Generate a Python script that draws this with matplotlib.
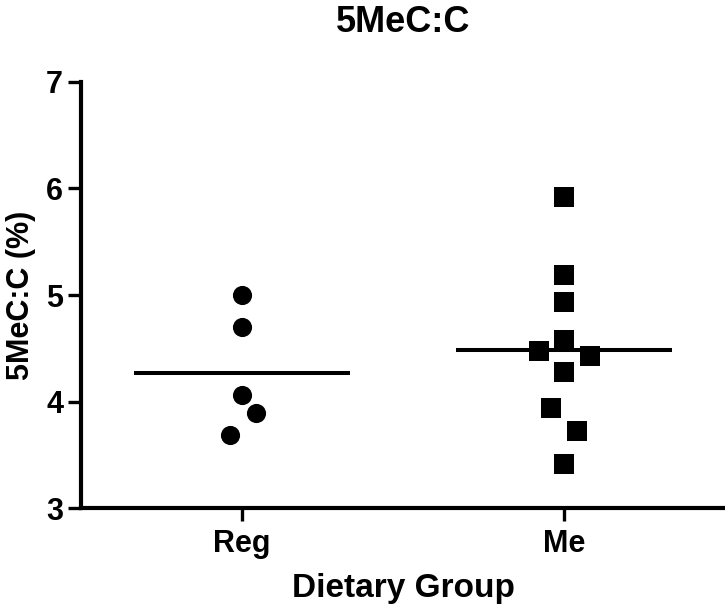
import matplotlib
matplotlib.use("Agg")
import matplotlib.pyplot as plt
import numpy as np

# data
groups = ["Reg", "Me"]
reg_values = [5.00, 4.70, 4.06, 3.89, 3.69]
me_values = [5.92, 5.19, 4.93, 4.58, 4.47, 4.43, 4.28, 3.94, 3.72, 3.41]
title = "5MeC:C"
ylabel = "5MeC:C (%)"
xlabel = "Dietary Group"

plt.rcParams['font.family'] = ['Liberation Sans', 'DejaVu Sans']
plt.rcParams['font.weight'] = 'bold'

fig = plt.figure(figsize=(7.25, 6.07), dpi=100)
ax = fig.add_axes([0.1117, 0.163, 0.8883, 0.702])

# horizontal spread of overlapping points (like the prism scatter)
reg_jit = [0, 0, 0, 0.043, -0.037]
me_jit = [0, 0, 0, 0, -0.078, 0.081, 0, -0.04, 0.04, 0]

ax.plot(1 + np.array(reg_jit), reg_values, 'o', color='black', ms=13.8, mew=0)
ax.plot(2 + np.array(me_jit), me_values, 's', color='black', ms=13.7, mew=0)

hw = 0.336
for i, vals in enumerate([reg_values, me_values]):
    m = np.mean(vals)
    ax.plot([i + 1 - hw, i + 1 + hw], [m, m], color='black', lw=2.9,
            solid_capstyle='butt')

ax.set_xlim(0.5, 2.5)
ax.set_ylim(3, 7)
ax.set_xticks([1, 2])
ax.set_xticklabels(groups)
ax.set_yticks([3, 4, 5, 6, 7])

for s in ['top', 'right']:
    ax.spines[s].set_visible(False)
for s in ['left', 'bottom']:
    ax.spines[s].set_linewidth(3)

ax.tick_params(axis='both', width=2.4, length=9.4, labelsize=22)
ax.tick_params(axis='y', pad=3.5)
ax.tick_params(axis='x', pad=6)

ax.set_title(title, fontsize=26, fontweight='bold', pad=36)
ax.set_ylabel(ylabel, fontsize=22, fontweight='bold')
ax.yaxis.set_label_coords(-0.070, 0.5)
ax.set_xlabel(xlabel, fontsize=24, fontweight='bold', labelpad=10)

fig.savefig("out.png", dpi=100)
